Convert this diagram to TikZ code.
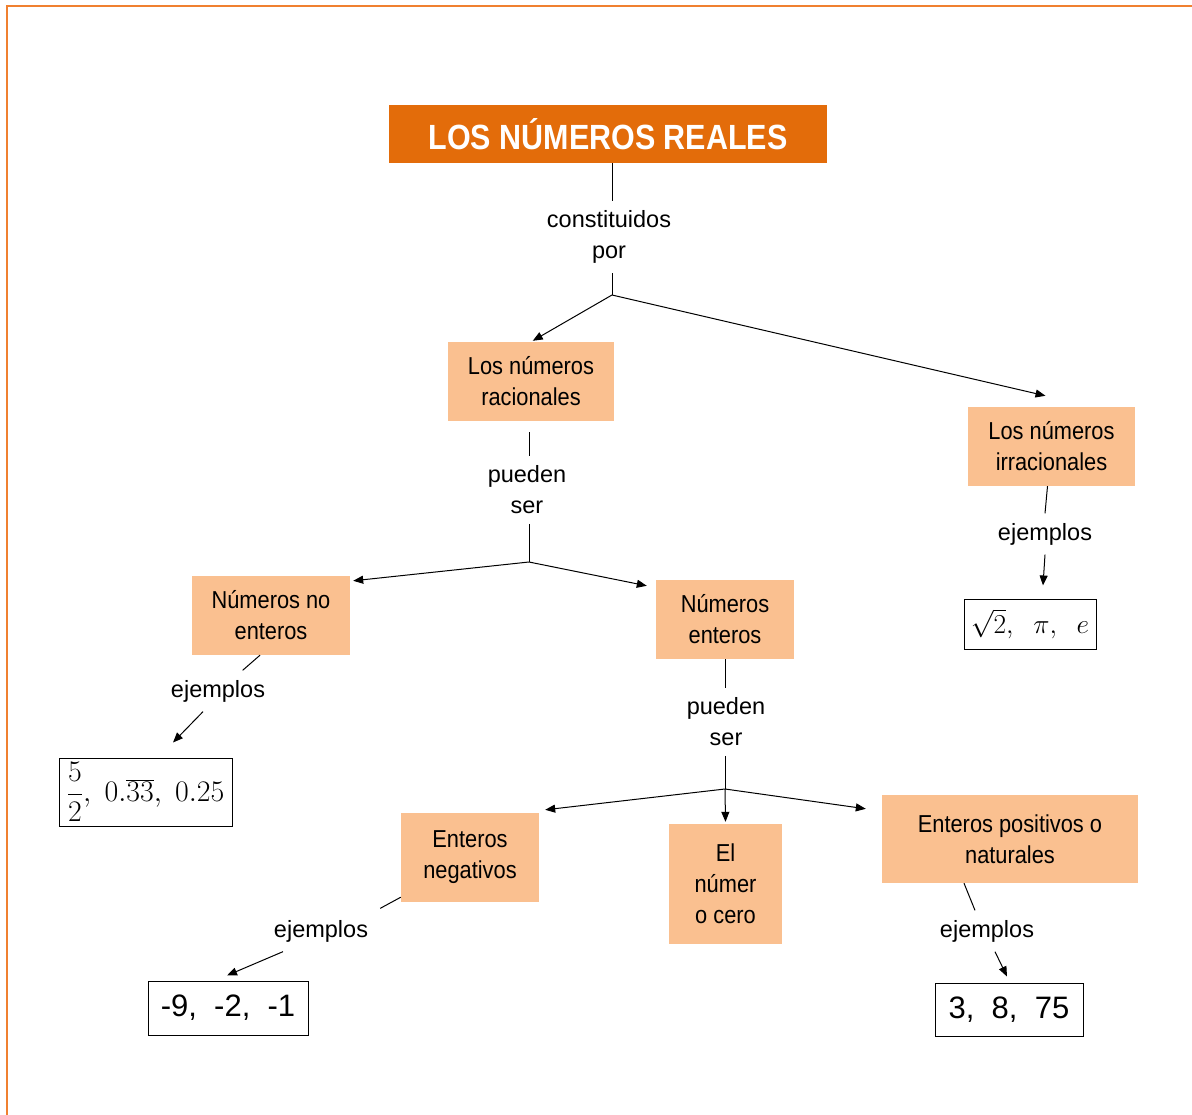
\documentclass[tikz,border=0pt]{standalone}
\usepackage{fontspec}
\setmainfont{Liberation Sans}
\newfontfamily\boxfont[FakeStretch=0.89]{Liberation Sans}
\newfontfamily\titlefont[FakeStretch=0.87]{Liberation Sans}
\usetikzlibrary{arrows.meta}
\definecolor{titleorange}{RGB}{227,108,10}
\definecolor{lightorange}{RGB}{250,192,144}
\definecolor{frameorange}{RGB}{240,128,48}
\begin{document}
\begin{tikzpicture}[x=1pt,y=-1pt,
  titlebox/.style={fill=titleorange, text=white, font=\titlefont\bfseries\fontsize{35}{40}\selectfont, minimum width=438pt, minimum height=58pt, inner sep=0pt},
  conc/.style={fill=lightorange, font=\boxfont\fontsize{24.5}{31}\selectfont, align=center, inner sep=0pt},
  lbl/.style={font=\fontsize{23.5}{31}\selectfont, align=center, inner xsep=2pt, inner ysep=9.5pt},
  exbox/.style={draw=black, line width=1pt, inner sep=0pt},
  conn/.style={draw=black, line width=1pt},
  arr/.style={conn, -{Triangle[length=10pt,width=8pt]}}
]
\useasboundingbox (0,0) rectangle (1192,1115);
\draw[frameorange, line width=2.5pt] (7,1115) -- (7,6) -- (1192,6);

% nodes
\node[titlebox] (title) at (608,134) {LOS NÚMEROS REALES};
\node[lbl] (lab1) at (609,237) {constituidos\\por};
\coordinate (j1) at (612,295);
\node[conc, minimum width=166pt, minimum height=79pt] (rac) at (531,381.5) {Los números\\racionales};
\node[conc, minimum width=167pt, minimum height=79pt] (irr) at (1051.5,446.5) {Los números\\irracionales};
\node[lbl] (lab2) at (527,490) {pueden\\ser};
\coordinate (j2) at (529,562);
\node[lbl] (lab3) at (1045,534) {ejemplos};
\node[exbox, minimum width=132pt, minimum height=50pt, font=\fontsize{24.88}{30}\selectfont] (exirr) at (1030,624) {\scalebox{1.1}{$\sqrt{2},\ \ \pi,\ \ e$}};
\node[conc, minimum width=158pt, minimum height=79pt] (noent) at (271,615.5) {Números no\\enteros};
\node[conc, minimum width=138pt, minimum height=79pt] (ent) at (725,619.5) {Números\\enteros};
\node[lbl] (lab4) at (218,691) {ejemplos};
\node[exbox, minimum width=173pt, minimum height=68pt, font=\fontsize{24.88}{30}\selectfont] (exfrac) at (145.5,792) {\scalebox{1.2}{$\displaystyle\frac{5}{2},\ 0.\overline{33},\ 0.25$}};
\node[lbl] (lab5) at (726,722) {pueden\\ser};
\coordinate (j3) at (725,789);
\node[conc, minimum width=138pt, minimum height=89pt] (neg) at (470,857.5) {Enteros\\negativos};
\node[conc, minimum width=113pt, minimum height=120pt] (cero) at (725.5,884) {El\\númer\\o cero};
\node[conc, minimum width=256pt, minimum height=88pt] (pos) at (1010,839) {Enteros positivos o\\naturales};
\node[lbl] (lab6) at (321,931) {ejemplos};
\node[lbl] (lab7) at (987,931) {ejemplos};
\node[exbox, minimum width=160pt, minimum height=54pt, font=\fontsize{31}{38}\selectfont] (exneg) at (228,1008) {-9,\ \ -2,\ \ -1};
\node[exbox, minimum width=148pt, minimum height=53pt, font=\fontsize{31}{38}\selectfont] (expos) at (1009,1009.5) {3,\ \ 8,\ \ 75};

% connectors
\draw[conn] (title.south -| j1) -- (lab1.north -| j1);
\draw[conn] (lab1.south -| j1) -- (j1);
\draw[arr, shorten >=2pt] (j1) -- (rac.north);
\draw[arr] (j1) -- ([shift={(-6,-11)}]irr.north);

\draw[conn, shorten <=11pt] (rac.south -| j2) -- (lab2.north -| j2);
\draw[conn] (lab2.south -| j2) -- (j2);
\draw[arr] (j2) -- ([shift={(3,5)}]noent.north east);
\draw[arr] (j2) -- ([shift={(-9,6)}]ent.north west);

\draw[conn] ([shift={(-4,0)}]irr.south) -- (lab3.north);
\draw[arr] (lab3.south) -- ([shift={(13,-13)}]exirr.north);

\draw[conn] ([shift={(-11,0)}]noent.south) -- (lab4.40);
\draw[arr] ([shift={(-15,0)}]lab4.south) -- ([shift={(27.5,-15)}]exfrac.north);

\draw[conn] (ent.south) -- (lab5.north -| ent.south);
\draw[conn] (lab5.south -| j3) -- (j3);
\draw[arr] (j3) -- ([shift={(6,-3)}]neg.north east);
\draw[arr] (j3) -- ([shift={(0,-2)}]cero.north);
\draw[arr] (j3) -- ([shift={(-16,14)}]pos.north west);

\draw[conn] ([shift={(0,-5)}]neg.south west) -- ([shift={(10,-2)}]lab6.north east);
\draw[arr] ([shift={(-38,0)}]lab6.south) -- ([shift={(-1,-5)}]exneg.north);

\draw[conn] ([shift={(-46,0)}]pos.south) -- ([shift={(-12,0)}]lab7.north);
\draw[arr] ([shift={(8,0)}]lab7.south) -- ([shift={(-2,-6)}]expos.north);
\end{tikzpicture}
\end{document}
